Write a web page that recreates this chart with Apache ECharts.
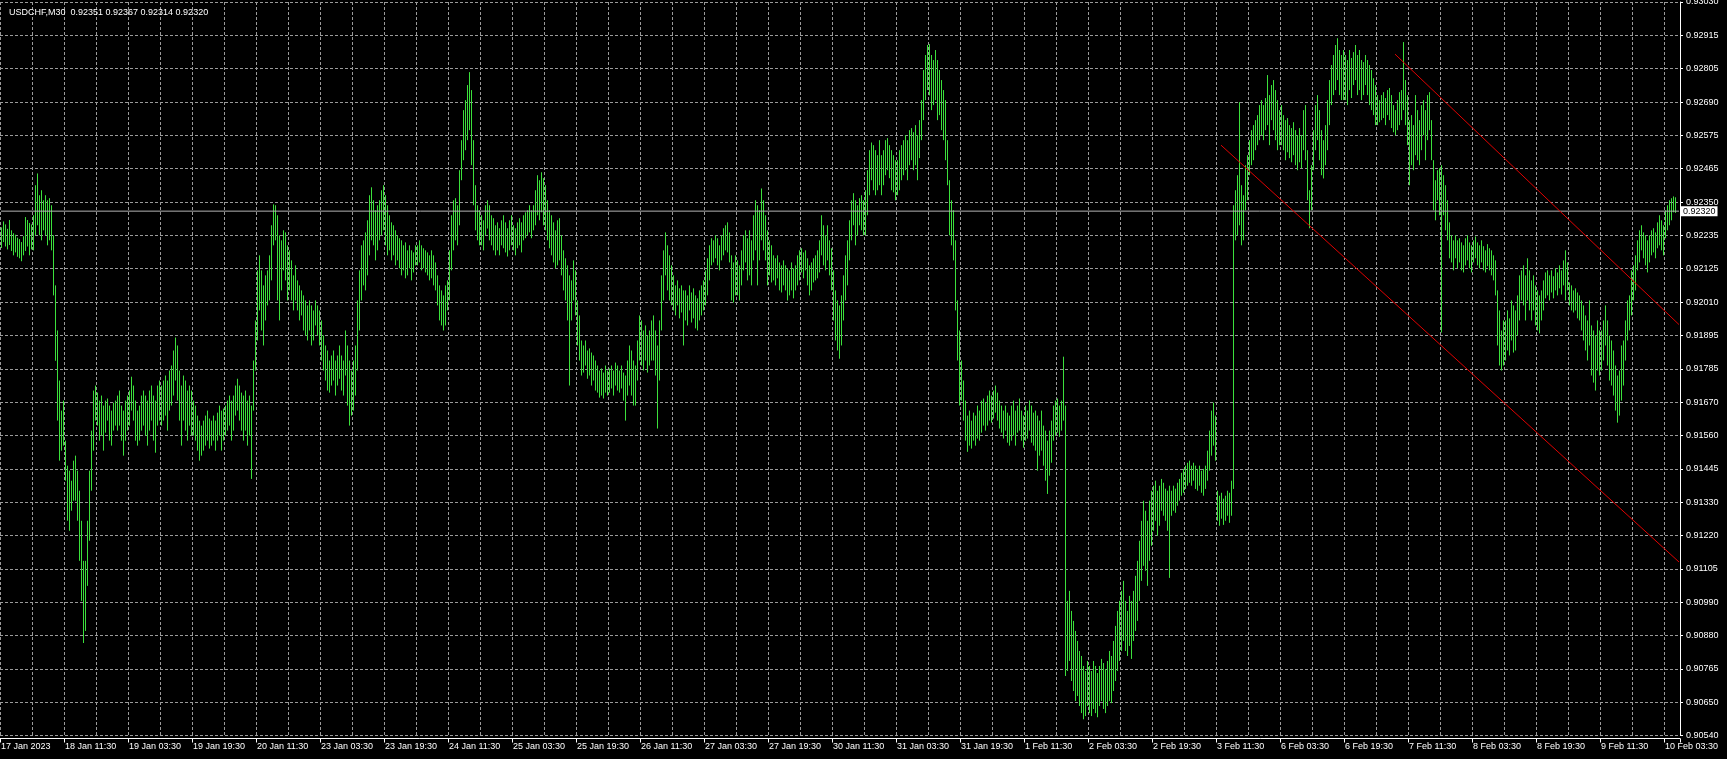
<!DOCTYPE html>
<html>
<head>
<meta charset="utf-8">
<script src="https://cdn.jsdelivr.net/npm/echarts@6/dist/echarts.min.js"></script>
<style>
html,body{margin:0;padding:0;background:#000;}
#chart{width:1727px;height:759px;}
</style>
</head>
<body>
<div id="chart"></div>
<script>
// USDCHF M30 bars, values in points (1e-5)
const symbolTitle = 'USDCHF,M30';
const lastOHLC = [92351, 92367, 92314, 92320];

const barLows = [
92195,92215,92200,92190,92205,92185,92170,92180,92165,92160,92150,92170,92185,92200,92170,92190,
92187,92238,92272,92238,92221,92255,92238,92204,92221,92187,92034,91812,91609,91473,91507,91524,
91405,91269,91235,91303,91337,91337,91269,91133,90997,90854,90895,91048,91201,91371,91507,91609,
91592,91541,91558,91507,91568,91609,91541,91524,91575,91592,91575,91592,91541,91490,91541,91575,
91592,91643,91609,91541,91524,91541,91575,91592,91558,91524,91575,91609,91541,91500,91592,91609,
91592,91609,91626,91575,91643,91660,91694,91745,91677,91609,91524,91609,91575,91541,91592,91558,
91558,91541,91507,91473,91490,91507,91524,91541,91514,91524,91541,91507,91541,91558,91507,91541,
91558,91575,91592,91541,91575,91626,91643,91609,91575,91541,91575,91524,91558,91411,91643,91779,
91881,91983,91915,91864,91949,92000,92017,92085,92204,92221,92017,91949,92051,92119,92085,92017,
92051,92017,91983,92017,91983,91949,91966,91915,91898,91881,91915,91864,91881,91932,91898,91864,
91813,91779,91745,91711,91704,91728,91745,91694,91728,91751,91711,91694,91762,91660,91592,91626,
91643,91694,91779,91915,92017,92068,92051,92102,92170,92221,92204,92153,92187,92221,92238,92255,
92204,92170,92187,92153,92170,92136,92153,92126,92102,92119,92092,92102,92126,92085,92112,92136,
92136,92146,92119,92126,92112,92102,92085,92092,92068,92051,92000,91949,91932,91915,91932,91983,
92017,92119,92187,92221,92204,92272,92425,92493,92527,92561,92595,92476,92340,92255,92221,92204,
92204,92187,92238,92261,92221,92204,92187,92170,92187,92170,92204,92194,92180,92166,92187,92204,
92187,92170,92194,92204,92180,92221,92228,92238,92248,92228,92255,92272,92306,92289,92316,92272,
92255,92221,92194,92170,92146,92126,92136,92153,92102,92051,92017,91949,91728,91949,92017,91966,
91864,91813,91762,91772,91796,91751,91762,91728,91745,91711,91704,91687,91694,91684,91704,91694,
91704,91718,91694,91728,91711,91704,91718,91677,91609,91694,91728,91694,91660,91660,91745,91813,
91796,91779,91813,91772,91796,91813,91813,91762,91582,91745,91915,92017,92102,92051,92017,92000,
91983,91966,92000,91956,91976,91864,91949,91932,91983,91942,91956,91922,91915,91949,91966,91983,
92000,92034,92085,92136,92146,92160,92136,92119,92153,92170,92187,92180,92146,92017,92010,92034,
92034,92017,92068,92119,92146,92085,92102,92068,92153,92187,92068,92153,92221,92187,92153,92068,
92102,92078,92085,92068,92092,92051,92044,92068,92051,92017,92034,92051,92024,92051,92068,92085,
92112,92092,92119,92068,92034,92051,92078,92085,92092,92112,92170,92136,92119,92153,92102,92051,
91949,91881,91847,91819,91864,91949,92017,92068,92153,92221,92272,92204,92238,92272,92255,92238,
92238,92306,92374,92425,92391,92374,92391,92408,92374,92408,92442,92459,92432,92391,92384,92357,
92374,92391,92425,92442,92459,92425,92476,92493,92459,92476,92425,92500,92561,92629,92697,92731,
92713,92663,92680,92697,92629,92646,92595,92561,92493,92408,92238,92204,92153,91983,91813,91660,
91677,91609,91541,91503,91524,91514,91541,91524,91548,91541,91568,91592,91575,91592,91609,91602,
91616,91636,91609,91582,91568,91548,91575,91534,91524,91541,91558,91524,91568,91575,91541,91517,
91541,91548,91575,91534,91524,91507,91439,91490,91507,91456,91405,91360,91422,91466,91541,91558,
91568,91554,91575,91609,90742,90759,90793,90725,90691,90657,90674,90640,90616,90595,90606,90640,
90616,90606,90630,90616,90602,90640,90657,90630,90616,90640,90657,90650,90691,90725,90759,90793,
90827,90861,90827,90810,90844,90800,90861,90895,90929,90997,91065,91116,91099,91048,91133,91184,
91235,91269,91218,91252,91303,91286,91269,91235,91075,91286,91303,91296,91320,91337,91354,91364,
91377,91388,91398,91388,91405,91377,91371,91388,91364,91354,91377,91405,91439,91490,91524,91473,
91269,91252,91276,91255,91269,91286,91262,91286,91377,92221,92238,92272,92204,92221,92323,92357,
92442,92476,92493,92527,92544,92561,92578,92561,92595,92612,92544,92629,92595,92561,92527,92544,
92544,92527,92493,92520,92500,92486,92510,92476,92459,92486,92466,92527,92493,92357,92262,92323,
92459,92527,92561,92493,92442,92431,92476,92527,92612,92680,92714,92731,92765,92714,92697,92697,
92697,92680,92731,92704,92748,92765,92714,92731,92697,92714,92748,92714,92680,92663,92646,92612,
92612,92622,92629,92636,92612,92646,92629,92602,92588,92578,92595,92612,92629,92663,92612,92544,
92408,92476,92459,92510,92493,92476,92527,92578,92493,92561,92595,92493,92323,92289,92357,92306,
91908,92306,92255,92221,92160,92146,92119,92160,92126,92146,92119,92112,92136,92153,92126,92112,
92146,92160,92136,92126,92146,92119,92112,92133,92119,92102,92085,92034,91864,91796,91779,91796,
91813,91847,91830,91881,91840,91847,91898,91949,92017,92000,91949,92017,91983,91949,91983,91932,
91915,91905,91949,91983,92024,92034,92017,92044,92024,92051,92034,92058,92037,92068,92017,92051,
92000,91983,91976,91983,91956,91949,91915,91881,91847,91813,91864,91762,91738,91711,91779,91762,
91779,91813,91864,91796,91745,91728,91694,91643,91602,91626,91677,91728,91813,91881,91915,91966,
92017,92051,92119,92146,92187,92160,92136,92112,92146,92170,92180,92160,92194,92204,92187,92170,
92228,92255,92272,92289,92316,92314
];

const barHighs = [
92265,92285,92275,92260,92290,92255,92245,92240,92230,92225,92215,92235,92300,92290,92280,92275,
92306,92408,92448,92374,92391,92357,92374,92357,92364,92340,92238,92068,91915,91745,91643,91677,
91541,91456,91439,91405,91473,91490,91439,91371,91269,91133,91133,91269,91439,91575,91711,91728,
91704,91677,91694,91660,91677,91684,91660,91643,91670,91677,91694,91711,91660,91643,91677,91694,
91711,91758,91728,91677,91643,91660,91694,91711,91694,91677,91711,91728,91694,91677,91728,91745,
91728,91745,91762,91745,91779,91796,91847,91891,91864,91779,91728,91762,91745,91711,91728,91711,
91677,91660,91626,91609,91592,91609,91626,91643,91616,91609,91626,91609,91636,91660,91643,91650,
91660,91677,91694,91677,91694,91728,91751,91728,91704,91694,91711,91677,91694,91660,91813,91949,
92119,92170,92119,92068,92102,92119,92170,92272,92343,92340,92306,92238,92221,92255,92248,92204,
92187,92153,92102,92136,92085,92068,92051,92034,92017,92000,92017,92000,91983,92017,92000,91983,
91949,91898,91864,91847,91813,91830,91847,91813,91830,91864,91830,91813,91915,91864,91813,91779,
91813,91864,92017,92119,92204,92221,92248,92289,92374,92401,92357,92323,92340,92357,92391,92408,
92374,92340,92306,92282,92272,92255,92238,92228,92221,92204,92214,92187,92204,92187,92180,92204,
92204,92221,92204,92194,92187,92180,92170,92187,92170,92146,92102,92068,92051,92034,92068,92085,
92187,92306,92357,92364,92340,92459,92561,92663,92697,92748,92792,92731,92561,92408,92340,92323,
92306,92289,92340,92357,92340,92306,92296,92272,92282,92262,92289,92306,92282,92262,92289,92306,
92272,92262,92282,92296,92282,92306,92316,92323,92340,92323,92340,92391,92442,92425,92452,92432,
92408,92357,92323,92306,92282,92255,92289,92296,92238,92187,92160,92136,92102,92085,92153,92119,
92017,91966,91881,91864,91881,91847,91854,91840,91830,91813,91796,91779,91786,91772,91796,91779,
91786,91796,91779,91806,91796,91779,91796,91772,91762,91813,91864,91847,91813,91796,91881,91966,
91949,91915,91932,91898,91915,91949,91966,91915,91864,91949,92102,92187,92248,92204,92170,92136,
92102,92068,92085,92058,92068,92051,92051,92034,92068,92044,92058,92034,92024,92051,92068,92085,
92119,92160,92204,92228,92221,92238,92228,92204,92238,92262,92272,92282,92248,92170,92146,92170,
92153,92136,92187,92238,92255,92228,92255,92221,92306,92357,92340,92323,92397,92357,92306,92255,
92221,92204,92170,92160,92170,92146,92136,92153,92136,92126,92119,92146,92126,92136,92170,92187,
92194,92180,92187,92160,92136,92146,92160,92170,92187,92221,92306,92272,92238,92272,92221,92194,
92119,92051,92017,92000,92034,92102,92170,92221,92289,92357,92381,92357,92340,92364,92374,92357,
92391,92459,92527,92553,92544,92527,92510,92561,92510,92527,92561,92568,92544,92527,92510,92493,
92493,92527,92544,92561,92578,92561,92595,92602,92588,92612,92578,92629,92697,92799,92850,92884,
92887,92850,92833,92867,92833,92799,92765,92731,92697,92561,92425,92357,92323,92221,92017,91915,
91813,91745,91677,91626,91643,91609,91636,91626,91660,91643,91677,91684,91670,91694,91711,91694,
91711,91728,91704,91677,91660,91643,91660,91636,91626,91660,91677,91643,91660,91684,91643,91626,
91660,91643,91677,91660,91636,91643,91626,91609,91643,91592,91575,91541,91575,91609,91660,91677,
91684,91660,91677,91826,91660,90997,91031,90963,90929,90895,90861,90827,90810,90776,90759,90793,
90776,90759,90793,90776,90752,90776,90800,90786,90766,90793,90827,90810,90861,90912,90963,90997,
91031,91065,90997,90963,91014,90997,91031,91082,91133,91201,91269,91337,91303,91269,91337,91371,
91388,91405,91371,91388,91411,91398,91378,91371,91388,91371,91388,91378,91398,91411,91432,91445,
91456,91466,91473,91456,91466,91456,91445,91456,91439,91445,91456,91507,91575,91643,91670,91626,
91371,91354,91364,91344,91354,91371,91364,91405,92340,92391,92442,92690,92408,92374,92476,92510,
92561,92595,92612,92629,92646,92680,92697,92680,92704,92782,92714,92748,92765,92731,92697,92663,
92680,92646,92629,92636,92612,92602,92622,92595,92578,92602,92578,92663,92680,92527,92391,92476,
92595,92680,92714,92663,92595,92561,92612,92697,92765,92816,92850,92884,92907,92867,92850,92867,
92850,92833,92867,92840,92860,92884,92850,92867,92833,92826,92850,92833,92816,92799,92771,92748,
92714,92697,92714,92724,92704,92731,92738,92714,92680,92663,92697,92724,92731,92894,92765,92714,
92629,92646,92612,92714,92663,92629,92680,92697,92663,92714,92724,92629,92493,92425,92459,92466,
92476,92442,92408,92357,92282,92238,92221,92238,92221,92228,92214,92204,92228,92238,92214,92204,
92221,92234,92214,92204,92221,92201,92187,92208,92194,92187,92170,92153,92051,91983,91915,91949,
91949,91983,91956,92017,92000,91983,92034,92102,92119,92136,92102,92160,92119,92085,92102,92068,
92051,92034,92051,92085,92112,92119,92102,92119,92099,92126,92112,92136,92119,92153,92187,92146,
92078,92068,92051,92058,92044,92034,92017,92000,91966,91949,92017,91932,91915,91898,91949,91915,
91915,91949,92000,91949,91898,91881,91847,91796,91762,91779,91864,91881,91949,92017,92034,92119,
92136,92170,92221,92255,92272,92248,92238,92221,92238,92255,92262,92248,92282,92306,92289,92272,
92323,92340,92357,92364,92370,92367
];

// Price scale labels (bottom to top)
const priceTicks = ['0.90540','0.90650','0.90765','0.90880','0.90990','0.91105','0.91220','0.91330','0.91445','0.91560','0.91670','0.91785','0.91895','0.92010','0.92125','0.92235','0.92350','0.92465','0.92575','0.92690','0.92805','0.92915','0.93030'];
const priceMin = 90540, priceMax = 93030;

// Time scale labels (every 32 bars)
const timeTicks = ['17 Jan 2023','18 Jan 11:30','19 Jan 03:30','19 Jan 19:30','20 Jan 11:30','23 Jan 03:30','23 Jan 19:30','24 Jan 11:30','25 Jan 03:30','25 Jan 19:30','26 Jan 11:30','27 Jan 03:30','27 Jan 19:30','30 Jan 11:30','31 Jan 03:30','31 Jan 19:30','1 Feb 11:30','2 Feb 03:30','2 Feb 19:30','3 Feb 11:30','6 Feb 03:30','6 Feb 19:30','7 Feb 11:30','8 Feb 03:30','8 Feb 19:30','9 Feb 11:30','10 Feb 03:30'];

// Trend lines [bar index, price points]
const upperLine = [[697, 92853], [839, 91935]];
const lowerLine = [[610, 92544], [839, 91129]];
// Current bid line across the chart [bar index, price points]
const bidLine = [[0, 92320], [839, 92320]];

// ---- build ----
const P = v => v / 100000;
const slots = 840;
const months = ['Jan','Feb','Mar','Apr','May','Jun','Jul','Aug','Sep','Oct','Nov','Dec'];
const cats = [];
let t = Date.UTC(2023, 0, 17, 19, 30);
while (cats.length < slots) {
  const d = new Date(t);
  const wd = d.getUTCDay();
  if (wd !== 0 && wd !== 6) {
    cats.push(d.getUTCDate() + ' ' + months[d.getUTCMonth()] + ' ' +
      String(d.getUTCHours()).padStart(2,'0') + ':' + String(d.getUTCMinutes()).padStart(2,'0'));
  }
  t += 30 * 60 * 1000;
}
const bars = barLows.map((lo, i) => [i, P(lo), P(barHighs[i])]);

const FONT = 'Liberation Sans, Arial, sans-serif';
const gridColor = '#9a9a9a';
const chart = echarts.init(document.getElementById('chart'), null, {renderer: 'canvas'});
chart.setOption({
  backgroundColor: '#000000',
  animation: false,
  title: {
    text: symbolTitle + '  ' + lastOHLC.map(v => P(v).toFixed(5)).join(' '),
    left: 4, top: 3,
    textStyle: {color: '#ffffff', fontSize: 9, fontWeight: 'normal', fontFamily: FONT}
  },
  grid: {left: 0, right: 47, top: 2, bottom: 23.5, containLabel: false, outerBoundsMode: 'none'},
  xAxis: {
    type: 'category', data: cats, boundaryGap: true, offset: 3,
    axisLine: {show: true, lineStyle: {color: '#ffffff', width: 1}},
    axisTick: {show: true, interval: i => i % 32 === 0, length: 4, lineStyle: {color: '#ffffff'}},
    axisLabel: {
      interval: i => i % 32 === 0, formatter: (v, i) => timeTicks[i / 32],
      align: 'left', color: '#ffffff', fontSize: 9, fontFamily: FONT, margin: 4
    },
    splitLine: {show: true, interval: i => i % 16 === 0, lineStyle: {color: gridColor, type: [3, 2], width: 1}}
  },
  yAxis: [
    {type: 'value', min: P(priceMin), max: P(priceMax), show: false},
    {
      type: 'category', data: priceTicks, boundaryGap: false, position: 'right',
      axisLine: {show: true, lineStyle: {color: '#ffffff', width: 1}},
      axisTick: {show: true, interval: 0, length: 3, lineStyle: {color: '#ffffff'}},
      axisLabel: {interval: 0, color: '#ffffff', fontSize: 9, fontFamily: FONT, margin: 6},
      splitLine: {show: true, interval: 0, lineStyle: {color: gridColor, type: [3, 2], width: 1}}
    }
  ],
  series: [
    {
      type: 'line', xAxisIndex: 0, yAxisIndex: 0, silent: true, symbol: 'none',
      data: bidLine.map(p => [p[0], P(p[1])]),
      lineStyle: {color: '#b4b4b4', width: 1},
      endLabel: {show: true, distance: 2, formatter: () => P(lastOHLC[3]).toFixed(5),
                 color: '#000000', backgroundColor: '#ffffff', padding: [1, 2, 0, 2],
                 fontSize: 9, fontFamily: FONT}
    },
    {
      type: 'custom', name: 'USDCHF', xAxisIndex: 0, yAxisIndex: 0, silent: true,
      data: bars, encode: {x: 0, y: [1, 2]},
      renderItem: (params, api) => {
        const i = api.value(0);
        const a = api.coord([i, api.value(1)]);
        const b = api.coord([i, api.value(2)]);
        const x = Math.round(a[0]) + 0.5;
        return {type: 'line', shape: {x1: x, y1: a[1], x2: x, y2: b[1]},
                style: {stroke: '#3be03b', lineWidth: 1}};
      }
    },
    {
      type: 'line', xAxisIndex: 0, yAxisIndex: 0, silent: true, symbol: 'none',
      data: upperLine.map(p => [p[0], P(p[1])]),
      lineStyle: {color: '#e00000', width: 1}
    },
    {
      type: 'line', xAxisIndex: 0, yAxisIndex: 0, silent: true, symbol: 'none',
      data: lowerLine.map(p => [p[0], P(p[1])]),
      lineStyle: {color: '#e00000', width: 1}
    }
  ]
});
</script>
</body>
</html>
